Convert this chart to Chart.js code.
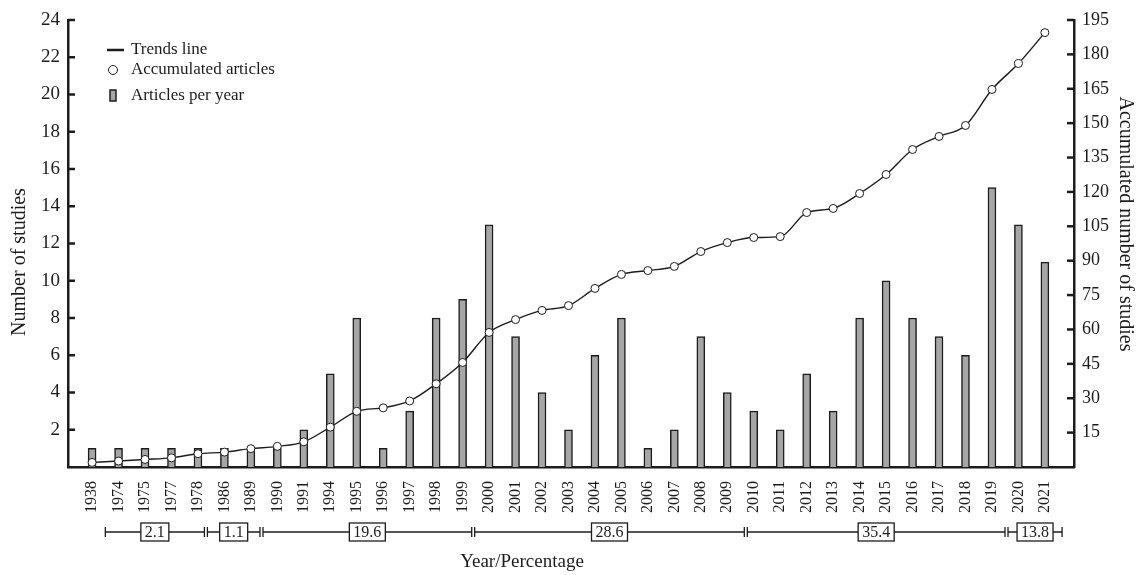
<!DOCTYPE html>
<html>
<head>
<meta charset="utf-8">
<script src="https://cdn.jsdelivr.net/npm/chart.js@4.4.1/dist/chart.umd.min.js"></script>
<style>
  body { margin: 0; background: #fff; }
  #wrap { width: 1140px; height: 575px; }
</style>
</head>
<body>
<div id="wrap"><canvas id="studyChart" width="1140" height="575"></canvas></div>
<script>
const years = ['1938', '1974', '1975', '1977', '1978', '1986', '1989', '1990', '1991', '1994', '1995', '1996', '1997', '1998', '1999',
  '2000', '2001', '2002', '2003', '2004', '2005', '2006', '2007', '2008', '2009',
  '2010', '2011', '2012', '2013', '2014', '2015', '2016', '2017', '2018', '2019', '2020', '2021'];
const articlesPerYear = [1, 1, 1, 1, 1, 1, 1, 1, 2, 5, 8, 1, 3, 8, 9,
  13, 7, 4, 2, 6, 8, 1, 2, 7, 4,
  3, 2, 5, 3, 8, 10, 8, 7, 6, 15, 13, 11];
const accumulated = [2, 2.6, 3.3, 4, 5.8, 6.5, 8, 9, 11, 17.4, 24.3, 25.8, 28.8, 36.3, 45.6,
  58.7, 64.3, 68.3, 70.4, 77.9, 84, 85.7, 87.5, 94, 97.9,
  100.1, 100.5, 111, 112.8, 119.3, 127.6, 138.5, 144.2, 149, 164.7, 176, 189.5];
const percentLabels = ['2.1', '1.1', '19.6', '28.6', '35.4', '13.8'];
// group boundaries, in year-index units along the x axis
const groupEdges = [0.5, 4.3, 6.4, 14.4, 24.7, 34.55, 36.65];

const serif = '"Liberation Serif", "DejaVu Serif", serif';
const ink = '#1c1c1c';
const barGray = '#a6a6a6';

// inward ticks, the bracket row, axis titles and legend
const extras = {
  id: 'extras',
  afterDraw(chart) {
    const ctx = chart.ctx;
    const area = chart.chartArea;
    const x = chart.scales.x;
    const yL = chart.scales.y;
    const yR = chart.scales.y2;
    ctx.save();
    ctx.strokeStyle = ink;
    ctx.fillStyle = ink;

    // tick marks pointing into the plot
    ctx.lineWidth = 2.5;
    yL.ticks.forEach(t => {
      if (t.value === 0) return;
      const py = yL.getPixelForValue(t.value);
      ctx.beginPath(); ctx.moveTo(area.left, py); ctx.lineTo(area.left + 7, py); ctx.stroke();
    });
    yR.ticks.forEach(t => {
      if (t.value === 0) return;
      const py = yR.getPixelForValue(t.value);
      ctx.beginPath(); ctx.moveTo(area.right, py); ctx.lineTo(area.right - 7, py); ctx.stroke();
    });

    // percentage brackets
    const by = 532;
    ctx.lineWidth = 1.3;
    const edgePx = groupEdges.map(v => x.getPixelForValue(v));
    for (let i = 0; i < percentLabels.length; i++) {
      let x0 = edgePx[i];
      let x1 = edgePx[i + 1];
      if (i > 0) x0 += 1.5;
      if (i < percentLabels.length - 1) x1 -= 1.5;
      ctx.beginPath(); ctx.moveTo(x0, by); ctx.lineTo(x1, by); ctx.stroke();
      ctx.beginPath(); ctx.moveTo(x0, by - 5); ctx.lineTo(x0, by + 5); ctx.stroke();
      ctx.beginPath(); ctx.moveTo(x1, by - 5); ctx.lineTo(x1, by + 5); ctx.stroke();

      ctx.font = '16px ' + serif;
      const w = ctx.measureText(percentLabels[i]).width + 8;
      const cx = (x0 + x1) / 2;
      ctx.fillStyle = '#fff';
      ctx.fillRect(cx - w / 2, by - 9, w, 18);
      ctx.strokeRect(cx - w / 2, by - 9, w, 18);
      ctx.fillStyle = ink;
      ctx.textAlign = 'center';
      ctx.textBaseline = 'middle';
      ctx.fillText(percentLabels[i], cx, by + 1);
    }

    // axis titles
    ctx.font = '19px ' + serif;
    ctx.textAlign = 'center';
    ctx.textBaseline = 'middle';
    ctx.fillText('Year/Percentage', 522, 562);

    ctx.font = '20px ' + serif;
    ctx.save();
    ctx.translate(20, 262);
    ctx.rotate(-Math.PI / 2);
    ctx.fillText('Number of studies', 0, 0);
    ctx.restore();
    ctx.save();
    ctx.translate(1125, 224);
    ctx.rotate(Math.PI / 2);
    ctx.fillText('Accumulated number of studies', 0, 0);
    ctx.restore();

    // legend
    ctx.font = '17px ' + serif;
    ctx.textAlign = 'left';
    ctx.lineWidth = 2.5;
    ctx.beginPath(); ctx.moveTo(107, 50); ctx.lineTo(124, 50); ctx.stroke();
    ctx.fillText('Trends line', 131, 50);
    ctx.lineWidth = 1;
    ctx.beginPath(); ctx.arc(113, 70, 4.5, 0, Math.PI * 2);
    ctx.fillStyle = '#fff'; ctx.fill(); ctx.stroke();
    ctx.fillStyle = ink;
    ctx.fillText('Accumulated articles', 131, 70);
    ctx.lineWidth = 1.5;
    ctx.fillStyle = barGray;
    ctx.fillRect(110, 90, 6, 11);
    ctx.strokeRect(110, 90, 6, 11);
    ctx.fillStyle = ink;
    ctx.fillText('Articles per year', 131, 96);
    ctx.restore();
  }
};

const ctx = document.getElementById('studyChart').getContext('2d');
const chart = new Chart(ctx, {
  type: 'bar',
  data: {
    datasets: [
      {
        type: 'line',
        label: 'Accumulated articles',
        data: accumulated.map((v, i) => ({ x: i, y: v })),
        yAxisID: 'y2',
        order: 0,
        borderColor: ink,
        borderWidth: 1.4,
        cubicInterpolationMode: 'monotone',
        pointRadius: 4,
        pointBackgroundColor: '#fff',
        pointBorderColor: ink,
        pointBorderWidth: 1
      },
      {
        label: 'Articles per year',
        data: articlesPerYear.map((v, i) => ({ x: i, y: v })),
        yAxisID: 'y',
        order: 1,
        backgroundColor: barGray,
        borderColor: ink,
        borderWidth: 1.5,
        barThickness: 8
      }
    ]
  },
  options: {
    responsive: false,
    animation: false,
    layout: { padding: { top: 20, left: 0, right: 0, bottom: 0 } },
    plugins: { legend: { display: false }, tooltip: { enabled: false } },
    scales: {
      x: {
        type: 'linear',
        offset: false,
        min: -0.91,
        max: 37.1,
        afterBuildTicks: scale => { scale.ticks = years.map((_, i) => ({ value: i })); },
        afterFit: scale => { scale.height = 108; },
        grid: { display: false, drawTicks: false },
        border: { display: true, width: 2.5, color: ink },
        ticks: {
          autoSkip: false,
          maxRotation: 90,
          minRotation: 90,
          padding: 14,
          color: ink,
          font: { family: serif, size: 16 },
          callback: v => years[v]
        }
      },
      y: {
        position: 'left',
        min: 0,
        max: 24,
        afterFit: scale => { scale.width = 68; },
        grid: { display: false, drawTicks: false },
        border: { display: true, width: 2.5, color: ink },
        ticks: {
          stepSize: 2,
          padding: 8,
          color: ink,
          font: { family: serif, size: 19 },
          callback: v => v === 0 ? '' : v
        }
      },
      y2: {
        position: 'right',
        min: 0,
        max: 195,
        afterFit: scale => { scale.width = 66; },
        grid: { display: false, drawTicks: false },
        border: { display: true, width: 2.5, color: ink },
        ticks: {
          stepSize: 15,
          padding: 8,
          color: ink,
          font: { family: serif, size: 18 },
          callback: v => v === 0 ? '' : v
        }
      }
    }
  },
  plugins: [extras]
});
</script>
</body>
</html>
